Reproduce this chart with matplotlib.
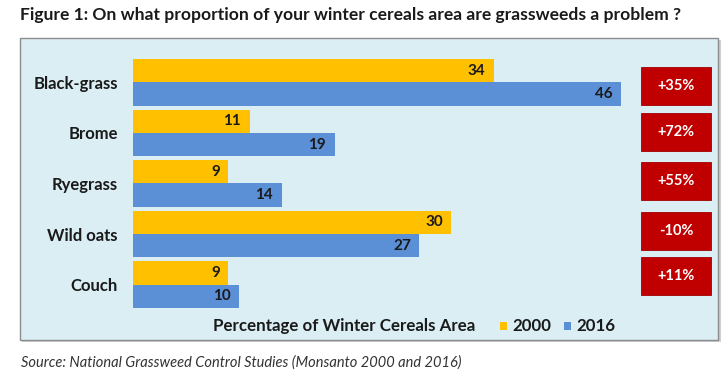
import matplotlib
matplotlib.use("Agg")
import matplotlib.pyplot as plt
from matplotlib.patches import Rectangle

categories = ["Black-grass", "Brome", "Ryegrass", "Wild oats", "Couch"]
values_2000 = [34, 11, 9, 30, 9]
values_2016 = [46, 19, 14, 27, 10]
changes = ["+35%", "+72%", "+55%", "-10%", "+11%"]
series_labels = ["2000", "2016"]

W, H = 725, 381
fig = plt.figure(figsize=(W / 100, H / 100), dpi=100)
fig.patch.set_facecolor("white")
FONT = ["Lato", "DejaVu Sans"]

def fx(px):
    return px / W

def fy(py):
    return 1 - py / H

fig.patches.append(Rectangle((fx(22), fy(342)), fx(721) - fx(22), fy(40) - fy(342),
                             transform=fig.transFigure, facecolor="#cfcfcf", edgecolor="none", zorder=0))
fig.patches.append(Rectangle((fx(20), fy(340)), fx(718) - fx(20), fy(38) - fy(340),
                             transform=fig.transFigure, facecolor="#DAEEF3", edgecolor="#8c8c8c",
                             linewidth=1.0, zorder=1))

ax_left, ax_right = 133, 633
ax_top, ax_bot = 57, 310
ax = fig.add_axes([fx(ax_left), fy(ax_bot), fx(ax_right) - fx(ax_left), fy(ax_top) - fy(ax_bot)])
ax.set_zorder(5)
ax.set_facecolor("none")
xmax = (ax_right - ax_left) / ((621 - 133) / 46)
ax.set_xlim(0, xmax)
n = len(categories)
ax.set_ylim(n - 0.5, -0.5)
bh = 0.46
ys = list(range(n))
ax.barh([y - bh / 2 for y in ys], values_2000, height=bh, color="#FFC000", label=series_labels[0])
ax.barh([y + bh / 2 for y in ys], values_2016, height=bh, color="#5B8FD6", label=series_labels[1])
for y, v in zip(ys, values_2000):
    ax.text(v - 0.8, y - bh / 2, str(v), ha="right", va="center", fontsize=11,
            fontweight="bold", family=FONT, color="#1a1a1a")
for y, v in zip(ys, values_2016):
    ax.text(v - 0.8, y + bh / 2, str(v), ha="right", va="center", fontsize=11,
            fontweight="bold", family=FONT, color="#1a1a1a")
ax.set_yticks(ys)
ax.set_yticklabels(categories, fontsize=12, fontweight="bold", family=FONT, color="#1a1a1a")
ax.tick_params(axis="y", length=0, pad=11)
ax.set_xticks([])
for s in ax.spines.values():
    s.set_visible(False)

box_tops = [67, 113, 162, 212, 257]
for t, c in zip(box_tops, changes):
    fig.patches.append(Rectangle((fx(641), fy(t + 38)), fx(711) - fx(641), fy(t) - fy(t + 38),
                                 transform=fig.transFigure, facecolor="#C00000",
                                 edgecolor="#a00000", linewidth=0.6, zorder=3))
    fig.text(fx(676), fy(t + 19), c, ha="center", va="center", color="white",
             fontsize=10.5, fontweight="bold", family=FONT, zorder=4)

fig.text(fx(213), fy(326), "Percentage of Winter Cereals Area", ha="left", va="center",
         fontsize=12.2, fontweight="bold", family=FONT, color="#1a1a1a")
fig.patches.append(Rectangle((fx(500), fy(330)), fx(507) - fx(500), fy(322) - fy(330),
                             transform=fig.transFigure, facecolor="#FFC000", edgecolor="none", zorder=3))
fig.text(fx(512), fy(326), series_labels[0], ha="left", va="center",
         fontsize=12.2, fontweight="bold", family=FONT, color="#1a1a1a")
fig.patches.append(Rectangle((fx(564), fy(330)), fx(571) - fx(564), fy(322) - fy(330),
                             transform=fig.transFigure, facecolor="#5B8FD6", edgecolor="none", zorder=3))
fig.text(fx(576), fy(326), series_labels[1], ha="left", va="center",
         fontsize=12.2, fontweight="bold", family=FONT, color="#1a1a1a")

fig.text(fx(20), fy(15), "Figure 1: On what proportion of your winter cereals area are grassweeds a problem ?",
         ha="left", va="center", fontsize=12.6, fontweight="bold", family=FONT, color="#1a1a1a")
fig.text(fx(21), fy(363), "Source: National Grassweed Control Studies (Monsanto 2000 and 2016)",
         ha="left", va="center", fontsize=10.5, style="italic", family=FONT, color="#333333")

fig.savefig("out.png", dpi=100)
